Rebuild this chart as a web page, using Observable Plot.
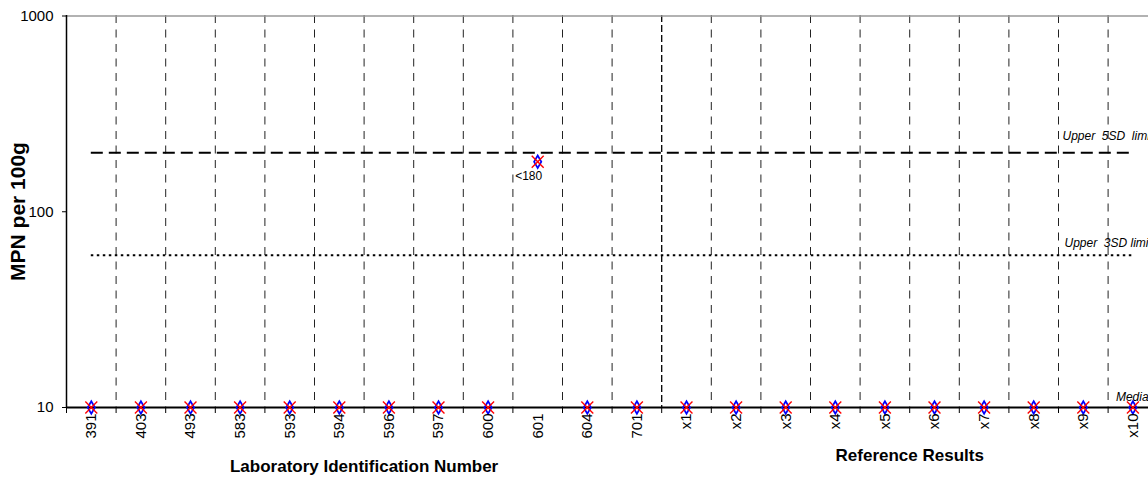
<!DOCTYPE html>
<html><head><meta charset="utf-8">
<script src="https://cdn.jsdelivr.net/npm/d3@7"></script>
<script src="https://cdn.jsdelivr.net/npm/@observablehq/plot@0.6"></script>
<style>
body{margin:0;background:#fff}
#chart svg{font-family:"Liberation Sans",Arial,sans-serif;overflow:hidden}
</style>
</head><body><div id="chart"></div>
<script>
const labIds = ["391","403","493","583","593","594","596","597","600","601","604","701"];
const refIds = ["x1","x2","x3","x4","x5","x6","x7","x8","x9","x10"];
const labValues = [10,10,10,10,10,10,10,10,10,180,10,10];
const refValues = [10,10,10,10,10,10,10,10,10,10];
const labNotes = ["","","","","","","","","","<180","",""];
const median = 10;
const upper3SD = 60;
const upper5SD = 200;
const yTicks = [10,100,1000];
const yTitle = "MPN per 100g";
const labTitle = "Laboratory Identification Number";
const refTitle = "Reference Results";

const cats = labIds.concat(refIds);
const values = labValues.concat(refValues);
const notes = labNotes.concat(refIds.map(() => ""));
const n = cats.length;
const data = cats.map((c, i) => ({cat: c, pos: i + 0.5, value: values[i], note: notes[i]}));
const boundaries = d3.range(0, n + 1);
const inner = boundaries.filter(b => b > 0 && b < n && b !== labIds.length);
const first = data[0].pos, last = data[n - 1].pos;

const chart = Plot.plot({
  width: 1148, height: 483,
  marginLeft: 66, marginTop: 15, marginBottom: 76, marginRight: 0,
  style: {fontFamily: '"Liberation Sans", Arial, sans-serif', fontSize: "15px", color: "#000", background: "#fff"},
  x: {type: "linear", domain: [0, n], range: [66, 66 + n * 49.6], ticks: boundaries, tickSize: 6, tickFormat: () => "", label: null},
  y: {type: "log", domain: [10, 1000], range: [407, 15.5], ticks: yTicks, tickFormat: d => String(d), tickSize: 4, tickPadding: 9, label: null},
  marks: [
    Plot.ruleX(inner, {stroke: "#222", strokeWidth: 1, strokeDasharray: "8,6.5"}),
    Plot.ruleX([labIds.length], {stroke: "#000", strokeWidth: 1.3, strokeDasharray: "7,3"}),
    Plot.ruleY([1000], {stroke: "#999", strokeWidth: 1.5}),
    Plot.ruleX([0], {stroke: "#000", strokeWidth: 1.5}),
    Plot.ruleY([upper5SD], {x1: first, x2: last, stroke: "#000", strokeWidth: 2, strokeDasharray: "12,6"}),
    Plot.ruleY([upper3SD], {x1: first, x2: last, stroke: "#000", strokeWidth: 2, strokeDasharray: "2.5,3.5"}),
    Plot.ruleY([median], {stroke: "#000", strokeWidth: 2}),
    Plot.text([upper5SD], {x: n - 2, y: d => d, text: () => "Upper\u00a0 5SD\u00a0 limit", textAnchor: "start", dx: 4, dy: -17, fontStyle: "italic", fontSize: 12}),
    Plot.text([upper3SD], {x: n - 2, y: d => d, text: () => "Upper\u00a0 3SD limit", textAnchor: "start", dx: 6, dy: -12, fontStyle: "italic", fontSize: 12}),
    Plot.text([median], {x: last, y: d => d, text: () => "Median", textAnchor: "start", dx: -17, dy: -10, fontStyle: "italic", fontSize: 12}),
    Plot.dot(data, {x: "pos", y: "value", symbol: "diamond", r: 3.8, stroke: "blue", fill: "none", strokeWidth: 1.7}),
    Plot.dot(data, {x: "pos", y: "value", symbol: "times", r: 5.5, stroke: "red", strokeWidth: 1.4}),
    Plot.text(data.filter(d => d.note), {x: "pos", y: "value", text: "note", dx: -9, dy: 14, fontSize: 12}),
    Plot.text(data, {x: "pos", text: "cat", frameAnchor: "bottom", rotate: -90, textAnchor: "end", lineAnchor: "middle", dy: 6, fontSize: 15}),
    Plot.text([labTitle], {x: labIds.length / 2, text: d => d, frameAnchor: "bottom", lineAnchor: "middle", dy: 59, fontWeight: "bold", fontSize: 17}),
    Plot.text([refTitle], {x: labIds.length + refIds.length / 2, text: d => d, frameAnchor: "bottom", lineAnchor: "middle", dy: 48, fontWeight: "bold", fontSize: 17}),
    Plot.text([yTitle], {text: d => d, frameAnchor: "left", textAnchor: "middle", lineAnchor: "middle", rotate: -90, dx: -48, fontWeight: "bold", fontSize: 21})
  ]
});
document.getElementById("chart").appendChild(chart);
</script>
</body></html>
